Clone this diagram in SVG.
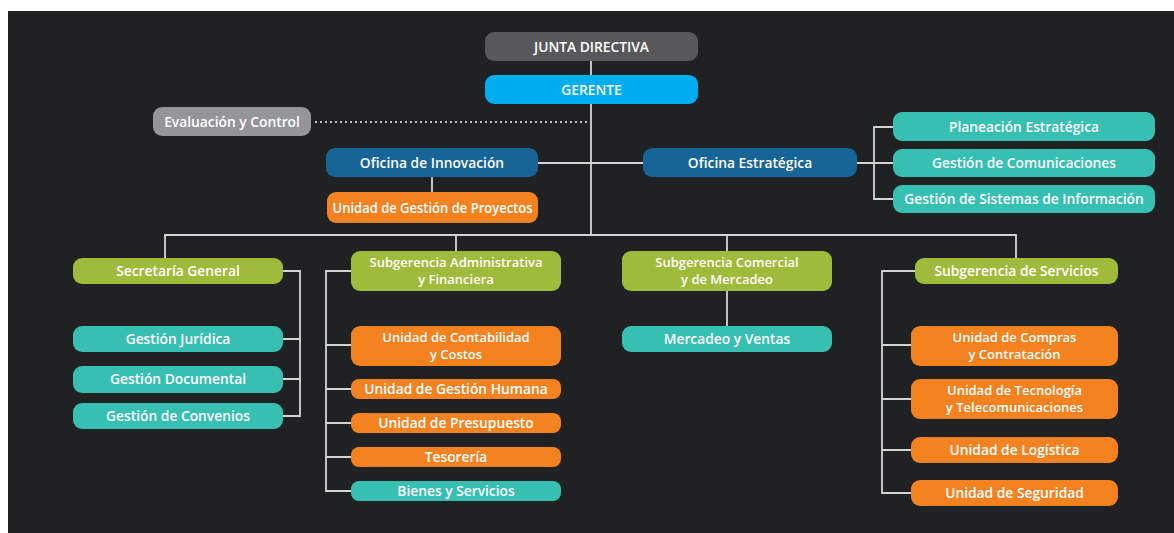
<svg xmlns="http://www.w3.org/2000/svg" width="1174" height="533" viewBox="0 0 1174 533">
<style>
.t{font-family:"Open Sans","Liberation Sans",sans-serif;font-weight:600;font-size:13.8px;fill:#ffffff;text-anchor:middle}
.t2{font-size:13px}
.jd{fill:#58585a}.ge{fill:#00aeef}.gr{fill:#939598}.bl{fill:#176496}.or{fill:#f58220}.tl{fill:#37bfb2}.gn{fill:#9fbb3b}
.c{fill:none;stroke:#d4d4d4;stroke-width:1.8}
.d{fill:none;stroke:#e6e6e6;stroke-width:2.2;stroke-dasharray:0 5;stroke-linecap:round}
</style>
<rect x="0" y="0" width="1174" height="533" fill="#ffffff"/>
<rect x="8" y="11" width="1166" height="522" fill="#1f2122"/>
<g id="connectors">
<path class="c" d="M591 61V75M591 104V235M538 163H643"/>
<path class="d" d="M316 122H591"/>
<path class="c" d="M432 177V192"/>
<path class="c" d="M857 163H874M893 127H874V199H893M874 163H893"/>
<path class="c" d="M165 258V235H1016V258M456 235V251M727 235V251"/>
<path class="c" d="M283 271H300V416H283M283 339H300M283 379H300"/>
<path class="c" d="M351 271H326V491H351M326 345H351M326 389H351M326 423H351M326 457H351"/>
<path class="c" d="M727 291V326"/>
<path class="c" d="M915 271H882V493H911M882 345H911M882 399H911M882 450H911"/>
</g>
<g id="junta"><rect class="jd" x="485" y="32" width="213" height="29" rx="9"/><text class="t" x="591.5" y="51.5">JUNTA DIRECTIVA</text></g>
<g id="gerente"><rect class="ge" x="485" y="75" width="213" height="29" rx="9"/><text class="t" x="591.5" y="94.5">GERENTE</text></g>
<g id="evaluacion"><rect class="gr" x="153" y="107" width="158" height="29" rx="9"/><text class="t" x="232" y="126.5">Evaluación y Control</text></g>
<g id="innovacion"><rect class="bl" x="326" y="148" width="212" height="29" rx="9"/><text class="t" x="432" y="167.5">Oficina de Innovación</text></g>
<g id="proyectos"><rect class="or" x="327" y="192" width="211" height="31" rx="9"/><text class="t" x="432.5" y="212.5" textLength="200" lengthAdjust="spacingAndGlyphs">Unidad de Gestión de Proyectos</text></g>
<g id="estrategica"><rect class="bl" x="643" y="148" width="214" height="29" rx="9"/><text class="t" x="750" y="167.5">Oficina Estratégica</text></g>
<g id="planeacion"><rect class="tl" x="893" y="112" width="262" height="29" rx="9"/><text class="t" x="1024" y="131.5">Planeación Estratégica</text></g>
<g id="comunicaciones"><rect class="tl" x="893" y="149" width="262" height="28" rx="9"/><text class="t" x="1024" y="167.5">Gestión de Comunicaciones</text></g>
<g id="sistemas"><rect class="tl" x="893" y="185" width="262" height="28" rx="9"/><text class="t" x="1024" y="203.5">Gestión de Sistemas de Información</text></g>
<g id="secretaria"><rect class="gn" x="73" y="258" width="210" height="26" rx="9"/><text class="t" x="178" y="275.5">Secretaría General</text></g>
<g id="juridica"><rect class="tl" x="73" y="326" width="210" height="26" rx="9"/><text class="t" x="178" y="343.5">Gestión Jurídica</text></g>
<g id="documental"><rect class="tl" x="73" y="366" width="210" height="27" rx="9"/><text class="t" x="178" y="384">Gestión Documental</text></g>
<g id="convenios"><rect class="tl" x="73" y="403" width="210" height="26" rx="9"/><text class="t" x="178" y="420.5">Gestión de Convenios</text></g>
<g id="admin"><rect class="gn" x="351" y="251" width="210" height="40" rx="9"/><text class="t t2" x="456" y="267">Subgerencia Administrativa</text><text class="t t2" x="456" y="284">y Financiera</text></g>
<g id="contabilidad"><rect class="or" x="351" y="326" width="210" height="40" rx="9"/><text class="t t2" x="456" y="342">Unidad de Contabilidad</text><text class="t t2" x="456" y="359">y Costos</text></g>
<g id="humana"><rect class="or" x="351" y="379" width="210" height="20" rx="8"/><text class="t" x="456" y="393.8">Unidad de Gestión Humana</text></g>
<g id="presupuesto"><rect class="or" x="351" y="413" width="210" height="20" rx="8"/><text class="t" x="456" y="427.8">Unidad de Presupuesto</text></g>
<g id="tesoreria"><rect class="or" x="351" y="447" width="210" height="20" rx="8"/><text class="t" x="456" y="461.8">Tesorería</text></g>
<g id="bienes"><rect class="tl" x="351" y="481" width="210" height="20" rx="8"/><text class="t" x="456" y="495.8">Bienes y Servicios</text></g>
<g id="comercial"><rect class="gn" x="622" y="251" width="210" height="40" rx="9"/><text class="t t2" x="727" y="267">Subgerencia Comercial</text><text class="t t2" x="727" y="284">y de Mercadeo</text></g>
<g id="mercadeo"><rect class="tl" x="622" y="326" width="210" height="26" rx="9"/><text class="t" x="727" y="343.5">Mercadeo y Ventas</text></g>
<g id="servicios"><rect class="gn" x="915" y="258" width="203" height="26" rx="9"/><text class="t" x="1016.5" y="275.5">Subgerencia de Servicios</text></g>
<g id="compras"><rect class="or" x="911" y="326" width="207" height="40" rx="9"/><text class="t t2" x="1014.5" y="342">Unidad de Compras</text><text class="t t2" x="1014.5" y="359">y Contratación</text></g>
<g id="tecnologia"><rect class="or" x="911" y="379" width="207" height="40" rx="9"/><text class="t t2" x="1014.5" y="395">Unidad de Tecnología</text><text class="t t2" x="1014.5" y="412">y Telecomunicaciones</text></g>
<g id="logistica"><rect class="or" x="911" y="437" width="207" height="26" rx="9"/><text class="t" x="1014.5" y="454.5">Unidad de Logística</text></g>
<g id="seguridad"><rect class="or" x="911" y="480" width="207" height="26" rx="9"/><text class="t" x="1014.5" y="497.5">Unidad de Seguridad</text></g>
</svg>
